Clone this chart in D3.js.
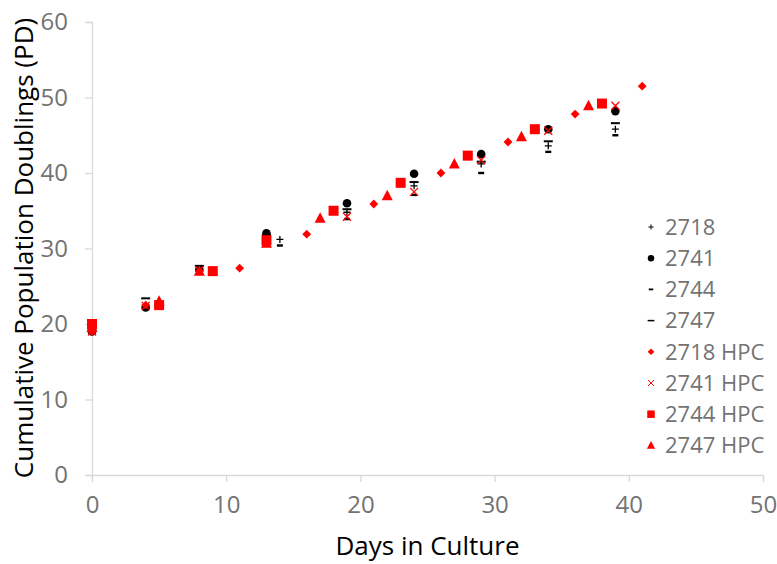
<!DOCTYPE html>
<html>
<head>
<meta charset="utf-8">
<script src="https://cdn.jsdelivr.net/npm/d3@7"></script>
<style>
    body { margin: 0; background: #fff; }
    text { font-family: "Open Sans", sans-serif; }
</style>
</head>
<body>
<script>
var seriesNames = ["2718", "2741", "2744", "2747", "2718 HPC", "2741 HPC", "2744 HPC", "2747 HPC"];

var days2718 = [0, 4, 8, 14, 19, 24, 29, 34, 39];
var pd2718 = [19.0, 22.5, 27.3, 31.2, 34.8, 38.3, 41.2, 43.6, 45.8];

var days2741 = [0, 4, 8, 13, 19, 24, 29, 34, 39];
var pd2741 = [19.0, 22.2, 27.2, 32.0, 36.0, 39.9, 42.5, 45.8, 48.2];

var days2744 = [0, 4, 9, 14, 19, 24, 29, 34, 39];
var pd2744 = [19.0, 22.3, 26.6, 30.4, 33.9, 37.1, 40.0, 42.8, 45.0];

var days2747 = [0, 4, 8, 13, 19, 24, 29, 34, 39];
var pd2747 = [19.2, 23.4, 27.7, 31.8, 35.2, 38.8, 41.5, 44.2, 46.6];

var days2718hpc = [0, 4, 8, 11, 16, 21, 26, 31, 36, 41];
var pd2718hpc = [19.0, 22.5, 27.0, 27.4, 31.9, 35.9, 40.0, 44.1, 47.8, 51.5];

var days2741hpc = [0, 4, 8, 13, 19, 24, 29, 34, 39];
var pd2741hpc = [19.0, 22.4, 27.1, 30.8, 34.2, 37.5, 41.7, 45.6, 48.9];

var days2744hpc = [0, 5, 9, 13, 18, 23, 28, 33, 38];
var pd2744hpc = [20.0, 22.5, 27.0, 31.1, 35.0, 38.7, 42.3, 45.8, 49.2];

var days2747hpc = [0, 5, 8, 13, 17, 22, 27, 32, 37];
var pd2747hpc = [19.5, 23.0, 27.0, 30.7, 34.0, 37.0, 41.2, 44.8, 48.9];

var xTicks = [0, 10, 20, 30, 40, 50];
var yTicks = [0, 10, 20, 30, 40, 50, 60];

var allDays = [days2718, days2741, days2744, days2747, days2718hpc, days2741hpc, days2744hpc, days2747hpc];
var allPd = [pd2718, pd2741, pd2744, pd2747, pd2718hpc, pd2741hpc, pd2744hpc, pd2747hpc];
var markers = ["plus", "circle", "dashShort", "dashLong", "diamond", "cross", "square", "triangle"];
var colors = ["#000", "#000", "#000", "#000", "#ff0000", "#ff0000", "#ff0000", "#ff0000"];

var width = 777, height = 564;
var margin = { left: 92, right: 14, top: 22, bottom: 89 };

var svg = d3
    .select("body")
    .append("svg")
    .attr("width", width)
    .attr("height", height);

var x = d3.scaleLinear().domain([0, 50]).range([margin.left, width - margin.right]);
var y = d3.scaleLinear().domain([0, 60]).range([height - margin.bottom, margin.top]);

// axes
var xAxis = svg
    .append("g")
    .attr("transform", "translate(0," + y(0) + ")")
    .call(d3.axisBottom(x).tickValues(xTicks).tickSize(7).tickPadding(14));

var yAxis = svg
    .append("g")
    .attr("transform", "translate(" + x(0) + ",0)")
    .call(d3.axisLeft(y).tickValues(yTicks).tickSize(7).tickPadding(17));

[xAxis, yAxis].forEach(function (a) {
    a.select(".domain").attr("stroke", "#d9d9d9").attr("stroke-width", 1.3);
    a.selectAll(".tick line").attr("stroke", "#d9d9d9").attr("stroke-width", 1.3);
    a.selectAll(".tick text")
        .attr("fill", "#737373")
        .style("font-size", "24px")
        .style("font-family", "'Open Sans', sans-serif");
});

svg.append("text")
    .attr("x", x(25))
    .attr("y", 555)
    .attr("text-anchor", "middle")
    .style("font-size", "26px")
    .text("Days in Culture");

svg.append("text")
    .attr("transform", "translate(33," + 248 + ") rotate(-90)")
    .attr("text-anchor", "middle")
    .style("font-size", "26px")
    .text("Cumulative Population Doublings (PD)");

function drawMarker(g, type, color, scale) {
    var s = scale || 1;
    if (type == "plus") {
        g.append("path")
            .attr("d", "M-3.5,0H3.5M0,-3.5V3.5")
            .attr("stroke", color).attr("stroke-width", 1.3)
            .attr("transform", "scale(" + s + ")");
    } else if (type == "circle") {
        g.append("circle").attr("r", 4.3 * s).attr("fill", color);
    } else if (type == "dashShort") {
        g.append("rect").attr("x", -3 * s).attr("y", -1.2 * s)
            .attr("width", 6 * s).attr("height", 2.4 * s).attr("fill", color);
    } else if (type == "dashLong") {
        g.append("rect").attr("x", -4.5 * s).attr("y", -1 * s)
            .attr("width", 9 * s).attr("height", 2 * s).attr("fill", color);
    } else if (type == "diamond") {
        g.append("path").attr("d", d3.symbol().type(d3.symbolDiamond2).size(50 * s * s))
            .attr("fill", color);
    } else if (type == "cross") {
        g.append("path").attr("d", "M-4,-4L4,4M-4,4L4,-4")
            .attr("stroke", color).attr("stroke-width", 1.3)
            .attr("transform", "scale(" + s + ")");
    } else if (type == "square") {
        g.append("rect").attr("x", -5 * s).attr("y", -5 * s)
            .attr("width", 10 * s).attr("height", 10 * s).attr("fill", color);
    } else if (type == "triangle") {
        g.append("path").attr("d", "M0,-6L5.5,4.5H-5.5Z")
            .attr("fill", color)
            .attr("transform", "scale(" + s + ")");
    }
}

// points
seriesNames.forEach(function (name, i) {
    var pts = allDays[i].map(function (d, j) { return [d, allPd[i][j]]; });
    var g = svg.append("g").attr("class", "series");
    g.selectAll("g")
        .data(pts)
        .enter()
        .append("g")
        .attr("transform", (d) => "translate(" + x(d[0]) + "," + y(d[1]) + ")")
        .each(function () { drawMarker(d3.select(this), markers[i], colors[i]); });
});

// legend
var legend = svg.append("g");
seriesNames.forEach(function (name, i) {
    var row = legend.append("g").attr("transform", "translate(651," + (227 + i * 31.2) + ")");
    drawMarker(row, markers[i], colors[i], 0.75);
    row.append("text")
        .attr("x", 14)
        .attr("dy", "0.35em")
        .attr("fill", "#737373")
        .style("font-size", "22px")
        .text(name);
});
</script>
</body>
</html>
